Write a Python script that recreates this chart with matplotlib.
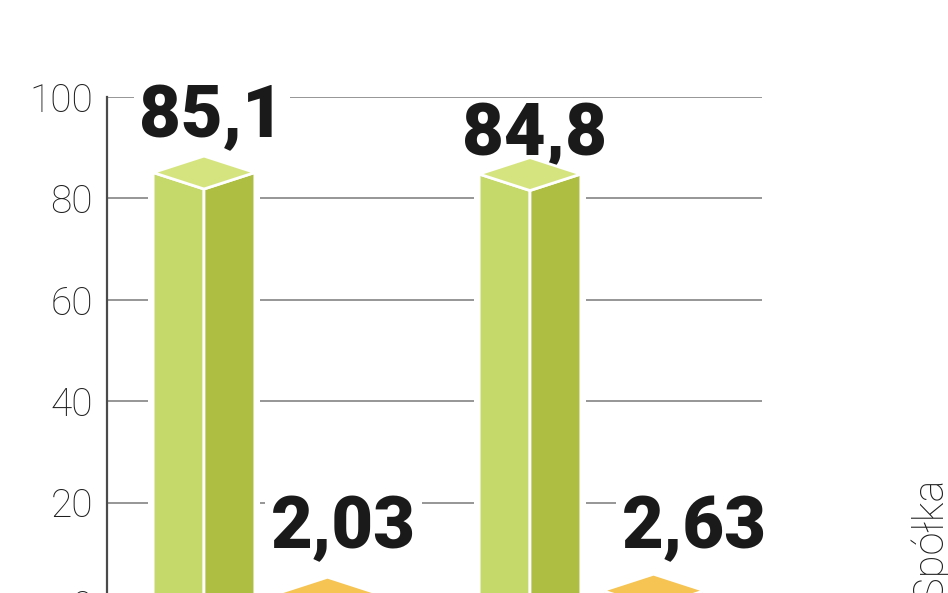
import matplotlib
matplotlib.use('Agg')
import matplotlib.pyplot as plt
from matplotlib.patches import Polygon, Rectangle

# ---- data ----
groups = [0, 1]
green_values = [85.1, 84.8]
orange_values = [2.03, 2.63]
green_labels = ['85,1', '84,8']
orange_labels = ['2,03', '2,63']
y_ticks = [0, 20, 40, 60, 80, 100]
side_text = 'Spółka'

# ---- styles ----
W, H, DPI = 948, 593, 100
GREEN = dict(left='#c5d86a', right='#adbe42', top='#d6e47f')
ORANGE = dict(left='#f7c95c', right='#efb83e', top='#f5c453')
series_offset = 0.379
half_w = 0.156
diamond_h = 3.25
gap_pad = 0.015
# label offsets in pixels (dx, dy up) and whether the label knocks out grid lines
green_lab_off = [(8, 35), (5, 19)]
orange_lab_off = [(16, 46), (41, 43)]
green_lab_gap = [True, False]
orange_lab_gap = [True, True]

fig = plt.figure(figsize=(W / DPI, H / DPI), dpi=DPI)
ax = fig.add_axes([107 / W, -11 / H, 655 / W, 507 / H])
ax.set_ylim(0, 100)
ax.set_xlim(-0.2975, 1.7117)

for s in ['top', 'right', 'bottom']:
    ax.spines[s].set_visible(False)
ax.spines['left'].set_color('#4a4a4a')
ax.spines['left'].set_linewidth(1.6)
ax.spines['left'].set_zorder(5)
ax.set_xticks([])
ax.set_yticks(y_ticks)
ax.set_yticklabels([str(t) for t in y_ticks])
ax.tick_params(axis='y', length=0, pad=10, labelsize=28, labelcolor='#1e1e1e')
for lab in ax.get_yticklabels():
    lab.set_fontfamily('Roboto')
    lab.set_fontweight('light')
ax.yaxis.grid(True, color='#8e8e8e', linewidth=1.3, zorder=0)
ax.set_axisbelow(True)


def prism(xc, v, col):
    ax.add_patch(Rectangle((xc - half_w - gap_pad, 0), 2 * (half_w + gap_pad), v + diamond_h,
                           facecolor='white', edgecolor='none', zorder=1.5))
    left = [(xc - half_w, 0), (xc - half_w, v), (xc, v - diamond_h), (xc, 0)]
    right = [(xc, 0), (xc, v - diamond_h), (xc + half_w, v), (xc + half_w, 0)]
    top = [(xc - half_w, v), (xc, v + diamond_h), (xc + half_w, v), (xc, v - diamond_h)]
    for pts, c in ((left, col['left']), (right, col['right']), (top, col['top'])):
        ax.add_patch(Polygon(pts, closed=True, facecolor=c, edgecolor='white',
                             linewidth=2, joinstyle='miter', zorder=2))


def label(xc, v, txt, off, gap):
    bbox = dict(boxstyle='square,pad=0.08', facecolor='white', edgecolor='none') if gap else None
    ax.annotate(txt, (xc, v), xytext=(off[0] * 0.72, off[1] * 0.72), textcoords='offset points',
                ha='center', va='baseline', fontsize=52, fontweight='black', family='Roboto',
                color='#1a1a1a', zorder=1.8, bbox=bbox)


for g in groups:
    xg = g
    prism(xg, green_values[g], GREEN)
    label(xg, green_values[g], green_labels[g], green_lab_off[g], green_lab_gap[g])
    xo = g + series_offset
    prism(xo, orange_values[g], ORANGE)
    label(xo, orange_values[g], orange_labels[g], orange_lab_off[g], orange_lab_gap[g])

fig.text(930 / W, (H - 478) / H, side_text, rotation=90, ha='center', va='top',
         fontsize=30, family='Roboto', fontweight='light', color='#1e1e1e')

fig.savefig('out.png', dpi=DPI)
